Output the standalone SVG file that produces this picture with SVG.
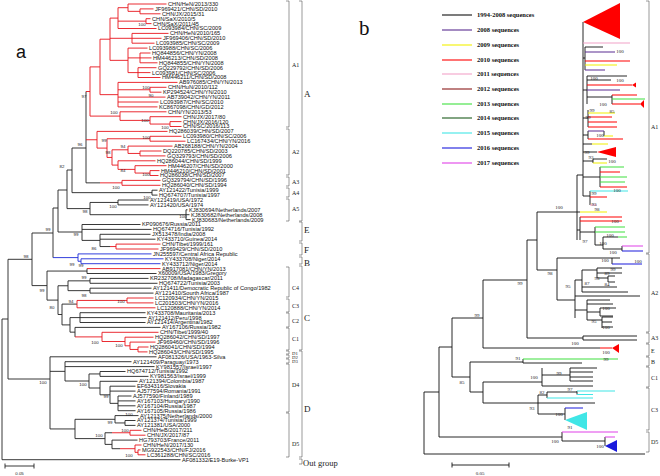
<svg xmlns="http://www.w3.org/2000/svg" width="660" height="476" viewBox="0 0 660 476">
<style>
.k{fill:none;stroke:#222;stroke-width:0.9}
.r{fill:none;stroke:#e8141c;stroke-width:0.9}
.bl{fill:none;stroke:#1c2ad8;stroke-width:0.9}
.t{font-family:"Liberation Sans",Arial,sans-serif;font-size:5.65px;fill:#111}
.bs{font-family:"Liberation Sans",Arial,sans-serif;font-size:4.4px;fill:#222;text-anchor:middle}
.br{fill:none;stroke:#555;stroke-width:0.6}
.bi{font-family:"Liberation Serif","Times New Roman",serif;font-size:6px;fill:#222}
.bo{font-family:"Liberation Serif","Times New Roman",serif;font-size:9px;fill:#222}
.rk{fill:none;stroke:#111;stroke-width:0.9}
.rb{font-family:"Liberation Serif","Times New Roman",serif;font-size:5px;fill:#222;text-anchor:middle}
.lg{font-family:"Liberation Serif","Times New Roman",serif;font-size:6.5px;font-weight:bold;fill:#111}
.c08{stroke:#5a2d91}.c09{stroke:#f2f000}.c10{stroke:#ff0000}.c11{stroke:#f2a2c8}.c12{stroke:#8b1a1a}.c13{stroke:#3ee03e}.c14{stroke:#1d5c1d}.c15{stroke:#40e6e6}.c16{stroke:#1a1adc}.c17{stroke:#e040e8}
.col{fill:none;stroke-width:1.1}
</style>
<rect width="660" height="476" fill="#fff"/>
<text x="16" y="58" font-family="Liberation Sans,Arial,sans-serif" font-size="18" fill="#111">a</text>
<text x="359" y="35" font-family="Liberation Serif,Times New Roman,serif" font-size="21" fill="#111">b</text>

<g id="connectors-a">
<path class="k" d="M2,319V459.7M2,459.7H180.5M2,319H8M8,259.3V379M8,259.3H32M32,233V285.6M8,379H50M32,233H53M53,208V257.6M53,208H58M58,190V232M58,190H67M67,170V208.6M67,170H72M72,148V192.65M72,148H86M86,91.5V182.85M86,182.85H100M72,192.65H152M152,190.2V195.1M152,190.2H157.5M152,195.1H157.5M67,208.6H90M90,202.45V214.7M90,202.45H118M118,200V204.9M118,200H148.5M118,204.9H148.5M90,214.7H186M186,209.8V219.6M186,209.8H187.5M186,214.7H189.5M186,219.6H190.5M58,232H82M82,224.5V240.4M82,224.5H140.5M82,229.4H151.5M82,240.4H100M100,234.3V246.55M100,234.3H150.5M100,239.2H155.5M100,246.55H110M32,285.6H47M47,271.05V300.1M47,271.05H87M87,268.6V273.5M87,273.5H156.5M47,300.1H58M58,285.75V314.5M58,285.75H68M68,280.85V290.65M68,280.85H90M90,278.4V283.3M90,278.4H148.5M90,283.3H157.5M68,290.65H90M90,288.2V293.1M90,288.2H151.5M90,293.1H153.5M58,314.5H62M62,304.1V324.9M62,304.1H77M62,324.9H70M70,317.6V332.15M70,317.6H80M80,312.7V322.5M80,312.7H145.5M80,317.6H146.5M80,322.5H145.5M70,332.15H75M75,327.4V336.9M75,327.4H160.5M50,356.8V428.95M50,356.8H156.5M50,371.35H65M65,361.7V381M65,361.7H131.5M65,366.6H154.5M65,381H89M89,373.95V388M89,373.95H100M100,371.5V376.4M100,371.5H125.5M100,376.4H148.5M89,388H100M100,381.3V394.8M100,381.3H137.5M100,394.8H110M110,386.2V403.35M110,386.2H135.5M110,391.1H135.5M110,403.35H118M118,396V410.7M118,396H131.5M118,400.9H135.5M118,405.8H135.5M118,410.7H135.5M50,428.95H75M75,419.3V438.6M75,419.3H115M115,415.6V422.95M115,415.6H138.5M115,422.95H125M125,420.5V425.4M125,420.5H135.5M125,425.4H135.5M75,438.6H105M105,432.75V444.4M105,432.75H112M105,444.4H112M112,440.1V448.7M112,440.1H137.5M112,448.7H120"/>
<path class="r" d="M86,91.5H90M90,66.9V116.1M90,66.9H100M100,39.2V94.65M100,39.2H110M110,18.1V60.35M110,18.1H118M118,7.7V28.5M118,7.7H128M128,4V11.35M128,4H166.5M128,11.35H140M140,8.9V13.8M140,8.9H153.5M140,13.8H160.5M118,21.15H146M146,18.7V23.6M146,18.7H150.5M146,23.6H151.5M118,28.5H156.5M110,38.3H132M132,33.4V43.2M132,33.4H168.5M132,38.3H161.5M132,43.2H154.5M110,60.35H128M128,48.1V72.6M128,48.1H147.5M128,57.9H140M140,53V62.8M140,53H150.5M140,57.9H151.5M140,62.8H157.5M128,72.6H138M138,67.7V77.5M138,67.7H156.5M138,72.6H150.5M138,77.5H160.5M100,94.65H118M118,82.4V106.9M118,82.4H177.5M118,89.75H150M150,87.3V92.2M150,87.3H166.5M150,92.2H161.5M118,97.1H165.5M118,102H158.5M118,106.9H157.5M90,116.1H120M120,111.8V120.4M120,111.8H166.5M120,120.4H150M150,116.7V124.05M150,116.7H181.5M150,124.05H170M170,121.6V126.5M170,121.6H181.5M170,126.5H181.5M86,139.75H97M97,131.4V148.1M97,131.4H167.5M97,148.1H107M107,138.75V157.45M107,138.75H150M150,136.3V141.2M150,136.3H181.5M150,141.2H185.5M107,157.45H112M112,149.8V165.1M112,149.8H128M128,146.1V153.45M128,146.1H172.5M128,153.45H140M140,151V155.9M140,151H161.5M140,155.9H165.5M112,165.1H118M118,160.8V169.4M118,160.8H155.5M118,169.4H135M135,165.7V173.05M135,165.7H166.5M135,173.05H150M150,170.6V175.5M150,170.6H159.5M150,175.5H158.5M100,182.85H122M122,180.4V185.3M122,180.4H160.5M122,185.3H160.5M110,246.55H116M116,244.1V249M116,244.1H160.5M116,249H158.5M87,268.6H160.5M77,300.45V307.8M77,300.45H127M127,298V302.9M127,298H153.5M127,302.9H153.5M77,307.8H155.5M75,336.9H102M102,332.3V341.5M102,332.3H158.5M102,341.5H125M125,337.2V345.8M125,337.2H153.5M125,345.8H130M130,342.1V349.45M130,342.1H155.5M130,349.45H138M138,347V351.9M138,347H148.5M138,351.9H147.5M112,432.75H130M130,430.3V435.2M130,430.3H141.5M130,435.2H145.5M120,448.7H135M135,445V452.35M135,445H141.5M135,452.35H138M138,449.9V454.8M138,449.9H140.5M138,454.8H145.5"/>
<path class="bl" d="M53,257.6H78M78,253.9V261.25M78,253.9H151.5M78,261.25H81M81,258.8V263.7M81,258.8H163.5M81,263.7H160.5"/>
<path class="k" d="M5,466H34M5,463.5V468.5M34,463.5V468.5"/>
</g>
<text x="19.5" y="475" class="bs" font-size="5.5">0.05</text>

<g id="bootstrap-a" class="bs">
<text x="142" y="26">100</text><text x="84" y="98">97</text><text x="114" y="114">100</text><text x="146" y="89">100</text><text x="151" y="97">90</text><text x="145" y="122">100</text><text x="165" y="129">100</text>
<text x="146" y="139">100</text><text x="104" y="142">99</text><text x="108" y="154">98</text><text x="123" y="148">94</text><text x="123" y="172">84</text><text x="146" y="176">100</text>
<text x="116" y="189">100</text><text x="147" y="199">100</text><text x="113" y="208">100</text><text x="183" y="218">100</text><text x="80" y="146">96</text><text x="62" y="168">82</text><text x="85" y="213">98</text>
<text x="48" y="231">99</text><text x="76" y="236">99</text><text x="94" y="250">86</text><text x="72" y="266">99</text><text x="81" y="267">99</text><text x="26" y="258">98</text><text x="42" y="292">99</text>
<text x="84" y="279">99</text><text x="84" y="297">98</text><text x="52" y="309">80</text><text x="71" y="303">94</text><text x="121" y="303">100</text><text x="95" y="344">100</text><text x="119" y="347">100</text>
<text x="43" y="384">100</text><text x="83" y="386">100</text><text x="106" y="398">99</text><text x="129" y="416">100</text><text x="110" y="424">99</text><text x="125" y="432">100</text><text x="99" y="437">100</text><text x="129" y="457">100</text>
</g>

<g id="clade-A1" class="t">
<text x="168" y="5.9">CHN/HeN/2013/330</text><text x="155" y="10.8">JF969421/CHN/SD/2010</text><text x="162" y="15.7">CHN/JX/2015/31</text><text x="152" y="20.6">CHN/SaX/2010/5</text><text x="153" y="25.5">CHN/SaX/2011/45</text><text x="158" y="30.4">LC093984/CHN/SC/2009</text><text x="170" y="35.3">CHN/HeN/2010/165</text><text x="163" y="40.2">JF969406/CHN/SD/2010</text><text x="156" y="45.1">LC093985/CHN/SC/2009</text><text x="149" y="50">LC093988/CHN/SC/2006</text><text x="152" y="54.9">HQ844856/CHN/YN/2008</text><text x="153" y="59.8">HM446213/CHN/SD/2008</text><text x="159" y="64.7">HQ844855/CHN/YN/2008</text><text x="158" y="69.6">GQ229792/CHN/SD/2006</text><text x="152" y="74.5">LC093981/CHN/SC/2006</text><text x="162" y="79.4">HM446211/CHN/SD/2008</text><text x="179" y="84.3">AB976085/CHN/YN/2013</text><text x="168" y="89.2">CHN/HuN/2010/112</text><text x="163" y="94.1">KP294524/CHN/YN/2010</text><text x="167" y="99">AB739042/CHN/YN/2011</text><text x="160" y="103.9">LC093987/CHN/SC/2010</text><text x="159" y="108.8">KC867098/CHN/GD/2012</text><text x="168" y="113.7">CHN/YN/2013/53</text><text x="183" y="118.6">CHN/JX/2017/80</text><text x="183" y="123.5">CHN/JX/2016/120</text><text x="183" y="128.4">CHN/SC/2016/113</text>
</g>
<g id="clade-A2-A5" class="t">
<text x="169" y="133.3">HQ286039/CHN/SD/2007</text><text x="183" y="138.2">LC093980/CHN/SC/2006</text><text x="187" y="143.1">LC167434/CHN/YN/2016</text><text x="174" y="148">AB268188/CHN/YN/2004</text><text x="163" y="152.9">DQ220785/CHN/SD/2003</text><text x="167" y="157.8">GQ329793/CHN/SD/2006</text><text x="157" y="162.7">HQ286044/CHN/SD/1999</text><text x="168" y="167.6">HM446207/CHN/SD/2000</text><text x="161" y="172.5">HM446210/CHN/SD/2001</text><text x="160" y="177.4">HQ286038/CHN/SD/2007</text><text x="162" y="182.3">GQ329794/CHN/SD/1996</text><text x="162" y="187.2">HQ286040/CHN/SD/1994</text><text x="159" y="192.1">AY121422/Tunisia/1999</text><text x="159" y="197">HQ674707/Tunisia/1997</text><text x="150" y="201.9">AY121419/USA/1972</text><text x="150" y="206.8">AY121420/USA/1974</text><text x="189" y="211.7">KJ830694/Netherlands/2007</text><text x="191" y="216.6">KJ830682/Netherlands/2008</text><text x="192" y="221.5">KJ830683/Netherlands/2009</text>
</g>
<g id="clade-EFB" class="t">
<text x="142" y="226.4">KP090676/Russia/2011</text><text x="153" y="231.3">HQ674716/Tunisia/1992</text><text x="152" y="236.2">JX513478/India/2008</text><text x="157" y="241.1">KY433710/Guinea/2014</text><text x="162" y="246">CHN/Tibet/1999/161</text><text x="160" y="250.9">JF969429/CHN/SD/2010</text><text x="153" y="255.8">JN255597/Central Africa Republic</text><text x="165" y="260.7">KY433708/Niger/2014</text><text x="162" y="265.6">KY433712/Niger/2014</text><text x="162" y="270.5">AB917081/CHN/YN/2013</text><text x="158" y="275.4">X60009/USA/1983/Gregory</text>
</g>
<g id="clade-C" class="t">
<text x="150" y="280.3">KR232708/Madagascar/2011</text><text x="159" y="285.2">HQ674722/Tunisia/2003</text><text x="153" y="290.1">AY121411/Democratic Republic of Congo/1982</text><text x="155" y="295">AY121410/Sourth Africa/1987</text><text x="155" y="299.9">LC120934/CHN/YN/2015</text><text x="155" y="304.8">LC201503/CHN/YN/2016</text><text x="157" y="309.7">LC120888/CHN/YN/2014</text><text x="147" y="314.6">KY433708/Mauritania/2013</text><text x="148" y="319.5">AY121412/Peru/1998</text><text x="147" y="324.4">AY121414/Argentina/1982</text><text x="162" y="329.3">AY167106/Russia/1982</text><text x="160" y="334.2">CHN/Tibet/1999/40</text><text x="155" y="339.1">HQ286042/CHN/SD/1997</text><text x="157" y="344">JF969460/CHN/SD/1996</text><text x="150" y="348.9">HQ286041/CHN/SD/1994</text><text x="149" y="353.8">HQ286043/CHN/SD/1995</text>
</g>
<g id="clade-D" class="t">
<text x="158" y="358.7">AF081326/USA/1963-Silva</text><text x="133" y="363.6">AY121409/Paraguay/1973</text><text x="156" y="368.5">KY981557/Israel/1997</text><text x="127" y="373.4">HQ674712/Tunisia/1992</text><text x="150" y="378.3">KY981563/Israel/1999</text><text x="139" y="383.2">AY121394/Colombia/1987</text><text x="137" y="388.1">EF634316/Slovakia</text><text x="137" y="393">AJ577594/Romania/1991</text><text x="133" y="397.9">AJ577590/Finland/1989</text><text x="137" y="402.8">AY167103/Hungary/1990</text><text x="137" y="407.7">AY167104/Russia/1987</text><text x="137" y="412.6">AY167105/Russia/1986</text><text x="140" y="417.5">AY121375/Netherlands/2000</text><text x="137" y="422.4">AY121374/Tunisia/1999</text><text x="137" y="427.3">AY121381/USA/2000</text><text x="143" y="432.2">CHN/HeB/2017/211</text><text x="147" y="437.1">CHN/JX/2017/87</text><text x="139" y="442">HG793703/France/2011</text><text x="143" y="446.9">CHN/HeN/2017/130</text><text x="142" y="451.8">MG922543/CHN/FJ/2016</text><text x="147" y="456.7">LC361288/CHN/SC/2016</text>
</g>
<g id="outgroup-a" class="t"><text x="182" y="461.6">AF081332/E19-Burke-VP1</text></g>

<g id="brackets-a">
<path class="br" d="M286,1H289V127H286M286,129H289V175H286M286,177H289V186H286M286,188H289V197H286M286,199H289V221H286M286,267H289V297H286M286,299H289V312H286M286,313H289V327H286M286,328H289V350H286M286,351H289V354H286M286,355H289V358H286M286,359H289V363H286M286,364H289V412H286M286,413H289V457H286"/>
<path class="br" d="M299,1H302V221H299M299,222H302V241H299M299,243H302V255H299M299,257H302V264H299M299,266H302V350H299M299,351H302V457H299M299,459H302V464H299"/>
<g class="bi"><text x="292" y="67">A1</text><text x="292" y="154">A2</text><text x="292" y="184">A3</text><text x="292" y="195">A4</text><text x="292" y="211">A5</text><text x="292" y="290">C4</text><text x="292" y="308">C3</text><text x="292" y="323">C2</text><text x="292" y="341">C1</text><text x="292" y="354.5" font-size="4.8">D1</text><text x="292" y="358.7" font-size="4.8">D2</text><text x="292" y="363" font-size="4.8">D3</text><text x="292" y="387">D4</text><text x="292" y="446">D5</text></g>
<g class="bo"><text x="304" y="97">A</text><text x="304" y="233">E</text><text x="304" y="253">F</text><text x="304" y="266">B</text><text x="304" y="321">C</text><text x="304" y="412">D</text><text x="303" y="466" font-size="8.5">Out group</text></g>
</g>

<g id="legend-b">
<path class="col" stroke="#111" stroke-width="1.4" d="M442,15H472"/>
<path class="col c08" stroke-width="1.4" d="M442,30H472"/>
<path class="col c09" stroke-width="1.4" d="M442,45H472"/>
<path class="col c10" stroke-width="1.4" d="M442,60H472"/>
<path class="col c11" stroke-width="1.4" d="M442,74H472"/>
<path class="col c12" stroke-width="1.4" d="M442,89H472"/>
<path class="col c13" stroke-width="1.4" d="M442,104H472"/>
<path class="col c14" stroke-width="1.4" d="M442,118H472"/>
<path class="col c15" stroke-width="1.4" d="M442,133H472"/>
<path class="col c16" stroke-width="1.4" d="M442,148H472"/>
<path class="col c17" stroke-width="1.4" d="M442,163H472"/>
<g class="lg"><text x="477" y="17.3">1994-2008 sequences</text><text x="477" y="32.3">2008 sequences</text><text x="477" y="47.3">2009 sequences</text><text x="477" y="62.3">2010 sequences</text><text x="477" y="76.3">2011 sequences</text><text x="477" y="91.3">2012 sequences</text><text x="477" y="106.3">2013 sequences</text><text x="477" y="120.3">2014 sequences</text><text x="477" y="135.3">2015 sequences</text><text x="477" y="150.3">2016 sequences</text><text x="477" y="165.3">2017 sequences</text></g>
</g>

<g id="connectors-b">
<path class="rk" d="M424,392V454M424,454H645M424,392H439M439,347V437M439,347H452M452,318V377M452,318H483M483,280V348M483,280H527M527,240V338M527,240H537M537,212V270M537,212H577M577,175V240M577,175H583M583,22V196M527,338H583M583,336V340M583,336H637M583,340H637M483,348H600M452,377H470M470,362V392M470,362H523M523,359V363M523,363H582M470,392H483M483,382V403M483,382H542M542,368V386M542,386H593M542,375H570M570,368V381M570,368H597M570,372H593M570,377H593M570,381H593M483,403H538M538,395V414M538,395H547M547,392V398M547,392H577M577,391V394.5M538,403H595M538,414H565M565,408V420M439,437H562M562,432V441M562,441H605M605,437V446M583,58H585M585,47V70M585,47H603M583,90H587M587,76V104M587,76H627M587,80H611M587,97H612M612,95V104M583,118H588M588,110V127M583,135H588M588,131V139M604,131V136M583,144H592M583,152H597M583,161H593M593,159V163M593,159H607M583,177H600M600,167V187M583,196H590M590,191V205M577,212H580M577,230H580M580,217V240M580,232H595M595,227V245M595,245H603M603,237V249M603,237H618M603,249H622M622,246V251M537,270H557M557,258V300M557,258H612M612,258V264M612,258H620M557,300H575M575,280V318M575,280H582M582,270V292M582,270H597M597,268V278M597,268H622M597,273H622M597,278H608M608,276V282M608,276H615M608,282H615M582,287H617M582,292H628M575,296H640M575,310H587M587,300V320M587,300H610M587,304H613M587,312H600M600,308V316M600,308H616M600,316H613M587,320H602M602,317V328M602,317H613M602,322H612M602,327H613"/>
<polygon points="583,22 620,3 620,39" fill="#ff0000"/>
<path class="col c11" d="M583,43H630M590,205H597"/>
<path class="col c08" d="M585,52H615M585,70H605M587,90H620M588,131H604"/>
<path class="col c10" d="M585,61H630M587,85H632M612,95H637M612,104H640M588,117H612M588,122H617M588,127H617M588,139H623M600,172H620M600,187H627M590,197H607M580,217H622M580,221H622M600,348H612"/>
<path class="col c09" d="M585,65H617M588,113H615M604,136H613M592,144H608M593,163H607M580,212H607"/>
<path class="col c13" d="M612,99H645M600,167H624M600,177H627M600,182H625M595,227H625M595,232H625M618,237H627M523,359H618"/>
<path class="col c15" d="M590,191H628M577,391H615M577,394.5H593M547,398H593"/>
<path class="col c17" d="M622,246H643M562,432H618M605,437H615"/>
<path class="col c16" d="M612,264H642M622,251H643M565,408H583"/>
<polygon points="632,85 636,82.5 636,87.5" fill="#ff0000"/>
<polygon points="640,104 644,100 644,108" fill="#ff0000"/>
<polygon points="597,152 616,147 616,157" fill="#ff0000"/>
<polygon points="612,348 619,344 619,353" fill="#ff0000"/>
<polygon points="565,420 587,412 587,430" fill="#40e6e6"/>
<polygon points="605,446 617,440 617,452" fill="#1a1adc"/>
<path class="rk" d="M452,465H509M452,462.5V467.5M509,462.5V467.5"/>
</g>
<text x="480" y="475" class="rb" font-size="5.5">0.05</text>

<g id="bootstrap-b" class="rb">
<text x="620" y="53">100</text><text x="594" y="80">100</text><text x="620" y="82">100</text><text x="603" y="106">100</text><text x="592" y="112">99</text><text x="612" y="113">85</text><text x="588" y="118.5">99</text><text x="600" y="137">100</text><text x="587" y="154">99</text><text x="591" y="159">93</text><text x="612" y="163">100</text><text x="617" y="192">100</text><text x="594" y="195">99</text><text x="594" y="206">93</text><text x="597" y="211">98</text>
<text x="559" y="209">100</text><text x="615" y="223">100</text><text x="610" y="237">100</text><text x="585" y="243">97</text><text x="603" y="245">100</text><text x="613" y="254">100</text><text x="605" y="262">100</text><text x="638" y="263">100</text><text x="613" y="271">99</text><text x="607" y="275">89</text><text x="597" y="280">93</text><text x="607" y="286">84</text><text x="587" y="285">87</text><text x="550" y="275">98</text><text x="568" y="288">95</text><text x="606" y="310">100</text><text x="594" y="323">95</text><text x="606" y="329">100</text>
<text x="520" y="285">99</text><text x="575" y="345">100</text><text x="477" y="317">99</text><text x="606" y="354">100</text><text x="606" y="361">99</text><text x="518" y="360">91</text><text x="462" y="384">85</text><text x="534" y="379">100</text><text x="559" y="375">99</text><text x="542" y="394">82</text><text x="570" y="391">97</text><text x="532" y="410">93</text><text x="559" y="416">100</text><text x="570" y="429">91</text><text x="555" y="443">100</text><text x="600" y="448">100</text>
</g>

<g id="brackets-b">
<path class="br" d="M646,1H649V253H646M646,254H649V332H646M646,333H649V343H646M646,344H649V356H646M646,357H649V366H646M646,367H649V387H646M646,388H649V430H646M646,432H649V452H646"/>
<g class="bi" font-size="6.5"><text x="651" y="129">A1</text><text x="651" y="295">A2</text><text x="651" y="340">A3</text><text x="651" y="353">E</text><text x="651" y="364">B</text><text x="651" y="380">C1</text><text x="651" y="412">C3</text><text x="651" y="444">D5</text></g>
</g>
</svg>
